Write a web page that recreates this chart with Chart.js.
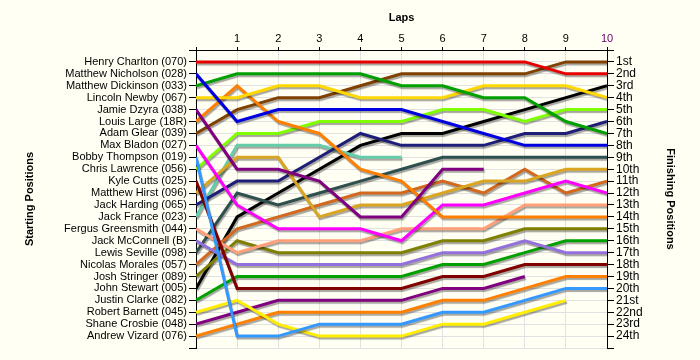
<!DOCTYPE html>
<html>
<head>
<meta charset="utf-8">
<script src="https://cdn.jsdelivr.net/npm/chart.js@4"></script>
<style>
  html, body { margin: 0; padding: 0; background: #FFFFF4; }
  canvas { display: block; }
</style>
</head>
<body>
<canvas id="lapChart" width="700" height="360"></canvas>
<script>
// Lap numbers (0 = grid)
const laps = [0, 1, 2, 3, 4, 5, 6, 7, 8, 9, 10];

// Drivers in starting order
const drivers = [
  "Henry Charlton (070)", "Matthew Nicholson (028)", "Matthew Dickinson (033)",
  "Lincoln Newby (067)", "Jamie Dzyra (038)", "Louis Large (18R)",
  "Adam Glear (039)", "Max Bladon (027)", "Bobby Thompson (019)",
  "Chris Lawrence (056)", "Kyle Cutts (025)", "Matthew Hirst (096)",
  "Jack Harding (065)", "Jack France (023)", "Fergus Greensmith (044)",
  "Jack McConnell (B)", "Lewis Seville (098)", "Nicolas Morales (057)",
  "Josh Stringer (089)", "John Stewart (005)", "Justin Clarke (082)",
  "Robert Barnett (045)", "Shane Crosbie (048)", "Andrew Vizard (076)"
];

// Finishing position labels (right axis)
const finishLabels = [
  "1st", "2nd", "3rd", "4th", "5th", "6th", "7th", "8th", "9th", "10th",
  "11th", "12th", "13th", "14th", "15th", "16th", "17th", "18th", "19th",
  "20th", "21st", "22nd", "23rd", "24th"
];

// Position of each driver at the end of each lap (null = retired)
const charlton   = [1, 1, 1, 1, 1, 1, 1, 1, 1, 2, 2];
const nicholson  = [2, 6, 5, 5, 5, 5, 6, 7, 8, 8, 8];
const dickinson  = [3, 2, 2, 2, 2, 3, 3, 4, 4, 6, 7];
const newby      = [4, 4, 3, 3, 4, 4, 4, 3, 3, 3, 4];
const dzyra      = [5, 10, 10, 11, 14, 14, 10, 10, null, null, null];
const large      = [6, 3, 6, 7, 10, 11, 14, 14, 14, 14, 14];
const glear      = [7, 5, 4, 4, 3, 2, 2, 2, 2, 1, 1];
const bladon     = [8, 13, 15, 15, 15, 16, 13, 13, 12, 11, 12];
const thompson   = [9, 24, 24, 23, 23, 23, 22, 22, 21, 20, 20];
const lawrence   = [10, 7, 7, 6, 6, 6, 5, 5, 6, 5, 5];
const cutts      = [11, 20, 20, 20, 20, 20, 19, 19, 18, 18, 18];
const hirst      = [12, 9, 9, 14, 13, 13, 12, 11, 11, 10, 10];
const harding    = [13, 11, 11, 9, 7, 8, 8, 8, 7, 7, 6];
const france     = [14, 8, 8, 8, 9, 9, null, null, null, null, null];
const greensmith = [15, 17, 16, 16, 16, 15, 15, 15, 13, 13, 13];
const mcconnell  = [16, 18, 18, 18, 18, 18, 17, 17, 16, 17, 17];
const seville    = [17, 12, 13, 12, 11, 10, 9, 9, 9, 9, 9];
const morales    = [18, 15, 14, 13, 12, 12, 11, 12, 10, 12, 11];
const stringer   = [19, 16, 17, 17, 17, 17, 16, 16, 15, 15, 15];
const stewart    = [20, 14, 12, 10, 8, 7, 7, 6, 5, 4, 3];
const clarke     = [21, 19, 19, 19, 19, 19, 18, 18, 17, 16, 16];
const barnett    = [22, 21, 23, 24, 24, 24, 23, 23, 22, 21, null];
const crosbie    = [23, 22, 21, 21, 21, 21, 20, 20, 19, null, null];
const vizard     = [24, 23, 22, 22, 22, 22, 21, 21, 20, 19, 19];

const positions = [
  charlton, nicholson, dickinson, newby, dzyra, large, glear, bladon,
  thompson, lawrence, cutts, hirst, harding, france, greensmith, mcconnell,
  seville, morales, stringer, stewart, clarke, barnett, crosbie, vizard
];

// line colours, same order as drivers
const lineColors = [
  "#E80000", "#0000E0", "#00A000", "#FFD800", "#800080", "#FF8000",
  "#804000", "#FF00FF", "#3399FF", "#80FF00", "#800000", "#DAA520",
  "#1E1E78", "#66CDAA", "#FFA07A", "#9370DB", "#2F4F4F", "#D2691E",
  "#808000", "#000000", "#00A000", "#FFEE00", "#800080", "#FF8000"
];

const FONT = "'Liberation Sans', Arial, sans-serif";

// cream background behind everything
const bgPlugin = {
  id: "bg",
  beforeDraw(chart) {
    const ctx = chart.ctx;
    ctx.save();
    ctx.fillStyle = "#FFFFF4";
    ctx.fillRect(0, 0, chart.width, chart.height);
    ctx.restore();
  }
};

// drop shadow under the lines
const shadowPlugin = {
  id: "lineShadow",
  beforeDatasetsDraw(chart) {
    const ctx = chart.ctx;
    ctx.save();
    ctx.shadowColor = "rgba(0,0,0,0.35)";
    ctx.shadowOffsetX = 1;
    ctx.shadowOffsetY = 2;
    ctx.shadowBlur = 1;
  },
  afterDatasetsDraw(chart) {
    chart.ctx.restore();
  }
};

function buildDatasets() {
  return drivers.map((name, i) => ({
    label: name,
    data: laps.map((lap, j) => ({ x: lap, y: positions[i][j] })),
    borderColor: lineColors[i],
    backgroundColor: lineColors[i],
    borderWidth: 3,
    pointRadius: 0,
    tension: 0,
    spanGaps: false,
    yAxisID: "y"
  }));
}

new Chart(document.getElementById("lapChart"), {
  type: "line",
  data: { datasets: buildDatasets() },
  plugins: [bgPlugin, shadowPlugin],
  options: {
    responsive: false,
    animation: false,
    layout: { padding: { left: 0, right: 0, top: 0, bottom: 12 } },
    plugins: {
      legend: { display: false },
      tooltip: { enabled: false }
    },
    scales: {
      x: {
        type: "linear",
        position: "top",
        min: 0,
        max: 10,
        afterFit: (s) => { s.height = 50; },
        ticks: {
          stepSize: 1,
          autoSkip: false,
          maxRotation: 0,
          padding: 1,
          font: { family: FONT, size: 11 },
          color: (c) => (c.tick && c.tick.value === 10 ? "#660066" : "#000"),
          callback: (v) => (v === 0 ? "" : v)
        },
        grid: { color: "#E2E2E2", tickColor: "#000", tickLength: 3 },
        border: { color: "#000", width: 1 },
        title: {
          display: true,
          text: "Laps",
          color: "#000",
          font: { family: FONT, size: 11, weight: "bold" },
          padding: { top: 11, bottom: 0 }
        }
      },
      y: {
        type: "linear",
        position: "left",
        reverse: true,
        min: 0,
        max: 25,
        afterFit: (s) => { s.width = 196; },
        ticks: {
          stepSize: 1,
          autoSkip: false,
          padding: 2,
          color: "#000",
          font: { family: FONT, size: 11 },
          callback: (v) => drivers[v - 1] || ""
        },
        grid: { color: "#E2E2E2", tickColor: "#000", tickLength: 7 },
        border: { color: "#000", width: 1 },
        title: {
          display: true,
          text: "Starting Positions",
          color: "#000",
          font: { family: FONT, size: 11, weight: "bold" },
          padding: { top: 23, bottom: 0 }
        }
      },
      y2: {
        type: "linear",
        position: "right",
        reverse: true,
        min: 0,
        max: 25,
        afterFit: (s) => { s.width = 93; },
        ticks: {
          stepSize: 1,
          autoSkip: false,
          padding: 2,
          color: "#000",
          font: { family: FONT, size: 12 },
          callback: (v) => finishLabels[v - 1] || ""
        },
        grid: { drawOnChartArea: false, tickColor: "#000", tickLength: 7 },
        border: { color: "#000", width: 1 },
        title: {
          display: true,
          text: "Finishing Positions",
          color: "#000",
          font: { family: FONT, size: 11, weight: "bold" },
          padding: { top: 23, bottom: 0 }
        }
      }
    }
  }
});
</script>
</body>
</html>
